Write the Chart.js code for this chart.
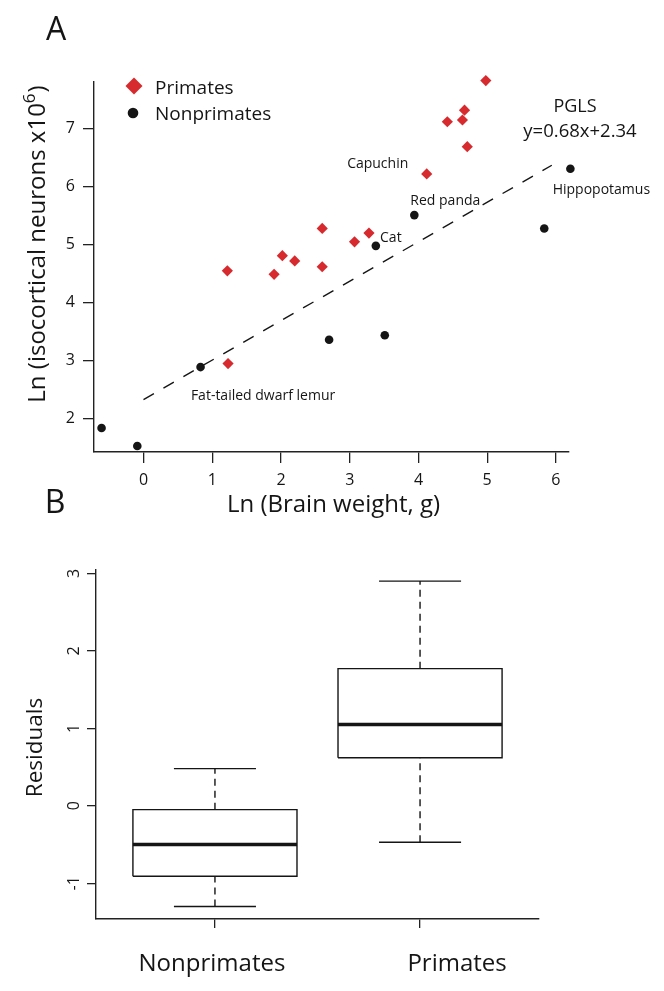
<!DOCTYPE html>
<html>
<head>
<meta charset="utf-8">
<script src="https://cdn.jsdelivr.net/npm/chart.js@4.4.1/dist/chart.umd.min.js"></script>
<style>
  html, body { margin: 0; padding: 0; background: #ffffff; }
  body { width: 664px; height: 991px; position: relative; overflow: hidden; }
  #wa { position: absolute; left: 0; top: 0; width: 664px; height: 530px; }
  #wb { position: absolute; left: 0; top: 480px; width: 664px; height: 511px; }
</style>
</head>
<body>
<div id="wa"><canvas id="ca"></canvas></div>
<div id="wb"><canvas id="cb"></canvas></div>
<script>
// ---------------- Panel A data ----------------
const primateX    = [1.22, 1.90, 2.02, 2.20, 2.60, 2.60, 3.07, 3.28, 4.12, 4.71, 4.42, 4.64, 4.67, 4.98, 1.23];
const primateY    = [4.55, 4.49, 4.81, 4.72, 5.28, 4.62, 5.05, 5.20, 6.22, 6.69, 7.12, 7.15, 7.32, 7.83, 2.95];
const nonprimateX = [-0.61, -0.09, 0.83, 2.70, 3.51, 3.38, 3.94, 5.83, 6.21];
const nonprimateY = [1.84, 1.53, 2.89, 3.36, 3.44, 4.98, 5.51, 5.28, 6.31];
const pglsX = [0.00, 5.94];
const pglsY = [2.33, 6.37];
const xTicksA = [0, 1, 2, 3, 4, 5, 6];
const yTicksA = [2, 3, 4, 5, 6, 7];
const seriesNames = ['Primates', 'Nonprimates'];

// ---------------- Panel B data ----------------
const groups      = ['Nonprimates', 'Primates'];
const whiskerLow  = [-1.30, -0.47];
const boxQ1       = [-0.91, 0.62];
const boxMedian   = [-0.50, 1.05];
const boxQ3       = [-0.05, 1.77];
const whiskerHigh = [0.48, 2.90];
const yTicksB     = [-1, 0, 1, 2, 3];

// ---------------- styles ----------------
const FONT = "'Open Sans', 'DejaVu Sans', sans-serif";
const INK = '#151515';
const RED = '#d62a2e';
Chart.defaults.font.family = FONT;
Chart.defaults.color = INK;
Chart.defaults.animation = false;

function txt(ctx, s, x, y, size, align) {
  ctx.font = size + 'px ' + FONT;
  ctx.textAlign = align || 'left';
  ctx.textBaseline = 'alphabetic';
  ctx.fillText(s, x, y);
}

// annotation layout (pixel offsets from the labelled point)
const labelsA = [
  { set: 0, idx: 8,  text: 'Capuchin',               dx: -49, dy: -5.5 },
  { set: 1, idx: 6,  text: 'Red panda',              dx: 31,  dy: -10 },
  { set: 1, idx: 5,  text: 'Cat',                    dx: 15,  dy: -3.5 },
  { set: 1, idx: 8,  text: 'Hippopotamus',           dx: 31,  dy: 25 },
  { set: 0, idx: 14, text: 'Fat-tailed dwarf lemur', dx: 35,  dy: 36 }
];

const decorA = {
  id: 'decorA',
  afterDatasetsDraw(chart) {
    const { ctx } = chart;
    const xs = chart.scales.x, ys = chart.scales.y;
    ctx.save();
    ctx.fillStyle = INK;
    // panel letter
    txt(ctx, 'A', 56, 40, 32, 'center');

    // legend
    const ds = chart.data.datasets;
    ctx.fillStyle = ds[0].backgroundColor;
    ctx.beginPath();
    ctx.moveTo(134, 86 - 8.5); ctx.lineTo(134 + 8.5, 86); ctx.lineTo(134, 86 + 8.5); ctx.lineTo(134 - 8.5, 86);
    ctx.closePath(); ctx.fill();
    ctx.fillStyle = ds[1].backgroundColor;
    ctx.beginPath(); ctx.arc(133, 113, 5.3, 0, Math.PI * 2); ctx.fill();
    ctx.fillStyle = INK;
    txt(ctx, ds[0].label, 155, 93.5, 19);
    txt(ctx, ds[1].label, 155, 120, 19);

    // PGLS text
    txt(ctx, 'PGLS', 575, 111.5, 18, 'center');
    txt(ctx, 'y=0.68x+2.34', 580, 136.5, 18.5, 'center');

    // point labels
    labelsA.forEach(l => {
      const meta = chart.getDatasetMeta(l.set);
      const el = meta.data[l.idx];
      txt(ctx, l.text, el.x + l.dx, el.y + l.dy, 14, 'center');
    });

    // axis titles
    txt(ctx, 'Ln (Brain weight, g)', (xs.left + xs.right) / 2 + 2, 512, 24, 'center');

    ctx.save();
    ctx.translate(45, 244);
    ctx.rotate(-Math.PI / 2);
    const main = 'Ln (isocortical neurons x10';
    ctx.font = '24px ' + FONT; const wMain = ctx.measureText(main).width;
    ctx.font = '17px ' + FONT; const wSup = ctx.measureText('6').width;
    ctx.font = '24px ' + FONT; const wEnd = ctx.measureText(')').width;
    let sx = -(wMain + wSup + 1 + wEnd) / 2;
    txt(ctx, main, sx, 0, 24); sx += wMain;
    txt(ctx, '6', sx, -10, 17); sx += wSup + 1;
    txt(ctx, ')', sx, 0, 24);
    ctx.restore();

    ctx.restore();
  }
};

const chartA = new Chart(document.getElementById('ca'), {
  type: 'scatter',
  data: {
    datasets: [
      {
        label: seriesNames[0],
        data: primateX.map((x, i) => ({ x: x, y: primateY[i] })),
        pointStyle: 'rectRot', pointRadius: 5.6, borderWidth: 0,
        backgroundColor: RED, borderColor: RED, clip: false
      },
      {
        label: seriesNames[1],
        data: nonprimateX.map((x, i) => ({ x: x, y: nonprimateY[i] })),
        pointStyle: 'circle', pointRadius: 4.3, borderWidth: 0,
        backgroundColor: INK, borderColor: INK, clip: false
      },
      {
        label: 'PGLS',
        type: 'line',
        data: pglsX.map((x, i) => ({ x: x, y: pglsY[i] })),
        borderColor: INK, borderWidth: 1.4, borderDash: [12, 11],
        pointRadius: 0, fill: false, tension: 0, clip: false
      }
    ]
  },
  options: {
    responsive: true, maintainAspectRatio: false, animation: false,
    layout: { padding: { top: 82, right: 95, left: 0, bottom: 0 } },
    plugins: { legend: { display: false }, tooltip: { enabled: false } },
    events: [],
    scales: {
      x: {
        type: 'linear', min: -0.72, max: 6.19,
        afterFit: s => { s.height = 78; },
        afterBuildTicks: s => { s.ticks = xTicksA.map(v => ({ value: v })); },
        grid: { drawOnChartArea: false, drawTicks: true, tickLength: 11, color: '#222', lineWidth: 1.3 },
        border: { display: true, color: '#222', width: 1.4 },
        ticks: { font: { size: 16 }, color: INK, padding: 8, maxRotation: 0, autoSkip: false }
      },
      y: {
        type: 'linear', min: 1.426, max: 7.805,
        afterFit: s => { s.width = 94; },
        afterBuildTicks: s => { s.ticks = yTicksA.map(v => ({ value: v })); },
        grid: { drawOnChartArea: false, drawTicks: true, tickLength: 11, color: '#222', lineWidth: 1.3 },
        border: { display: true, color: '#222', width: 1.4 },
        ticks: { font: { size: 16 }, color: INK, padding: 8, autoSkip: false }
      }
    }
  },
  plugins: [decorA]
});

// ---------------- Panel B ----------------
const BOX_HALF = 0.4, CAP_HALF = 0.2;
const boxSets = [];
groups.forEach((g, i) => {
  const c = i + 1;
  const base = { type: 'line', borderColor: INK, pointRadius: 0, fill: false, tension: 0, borderWidth: 1.4, borderJoinStyle: 'miter' };
  boxSets.push(Object.assign({}, base, { label: g + ' box', data: [
    { x: c - BOX_HALF, y: boxQ1[i] }, { x: c + BOX_HALF, y: boxQ1[i] },
    { x: c + BOX_HALF, y: boxQ3[i] }, { x: c - BOX_HALF, y: boxQ3[i] },
    { x: c - BOX_HALF, y: boxQ1[i] }] }));
  boxSets.push(Object.assign({}, base, { label: g + ' median', borderWidth: 3.6, data: [
    { x: c - BOX_HALF, y: boxMedian[i] }, { x: c + BOX_HALF, y: boxMedian[i] }] }));
  boxSets.push(Object.assign({}, base, { label: g + ' upper whisker', borderDash: [7, 5], data: [
    { x: c, y: boxQ3[i] }, { x: c, y: whiskerHigh[i] }] }));
  boxSets.push(Object.assign({}, base, { label: g + ' lower whisker', borderDash: [7, 5], data: [
    { x: c, y: whiskerLow[i] }, { x: c, y: boxQ1[i] }] }));
  boxSets.push(Object.assign({}, base, { label: g + ' upper cap', data: [
    { x: c - CAP_HALF, y: whiskerHigh[i] }, { x: c + CAP_HALF, y: whiskerHigh[i] }] }));
  boxSets.push(Object.assign({}, base, { label: g + ' lower cap', data: [
    { x: c - CAP_HALF, y: whiskerLow[i] }, { x: c + CAP_HALF, y: whiskerLow[i] }] }));
});

const groupLabelShift = [-3, 37];
const decorB = {
  id: 'decorB',
  afterDatasetsDraw(chart) {
    const { ctx } = chart;
    const xs = chart.scales.x, ys = chart.scales.y;
    ctx.save();
    ctx.fillStyle = INK;
    txt(ctx, 'B', 55, 33, 32, 'center');
    // y tick labels (rotated, R style)
    yTicksB.forEach(v => {
      ctx.save();
      ctx.translate(78.5, ys.getPixelForValue(v));
      ctx.rotate(-Math.PI / 2);
      txt(ctx, String(v), 0, 0, 16, 'center');
      ctx.restore();
    });
    // y title
    ctx.save();
    ctx.translate(42, 267.5);
    ctx.rotate(-Math.PI / 2);
    txt(ctx, 'Residuals', 0, 0, 22.5, 'center');
    ctx.restore();
    // category labels
    groups.forEach((g, i) => {
      txt(ctx, g, xs.getPixelForValue(i + 1) + groupLabelShift[i], 491, 24, 'center');
    });
    ctx.restore();
  }
};

const chartB = new Chart(document.getElementById('cb'), {
  type: 'scatter',
  data: { datasets: boxSets },
  options: {
    responsive: true, maintainAspectRatio: false, animation: false,
    layout: { padding: { top: 90, right: 125, left: 0, bottom: 0 } },
    plugins: { legend: { display: false }, tooltip: { enabled: false } },
    events: [],
    scales: {
      x: {
        type: 'linear', min: 0.42, max: 2.58,
        afterFit: s => { s.height = 72; },
        afterBuildTicks: s => { s.ticks = groups.map((g, i) => ({ value: i + 1 })); },
        grid: { drawOnChartArea: false, drawTicks: true, tickLength: 9, color: '#222', lineWidth: 1.3 },
        border: { display: true, color: '#222', width: 1.4 },
        ticks: { display: false }
      },
      y: {
        type: 'linear', min: -1.461, max: 3.043,
        afterFit: s => { s.width = 96; },
        afterBuildTicks: s => { s.ticks = yTicksB.map(v => ({ value: v })); },
        grid: { drawOnChartArea: false, drawTicks: true, tickLength: 9, color: '#222', lineWidth: 1.3 },
        border: { display: true, color: '#222', width: 1.4 },
        ticks: { display: false }
      }
    }
  },
  plugins: [decorB]
});
</script>
</body>
</html>
